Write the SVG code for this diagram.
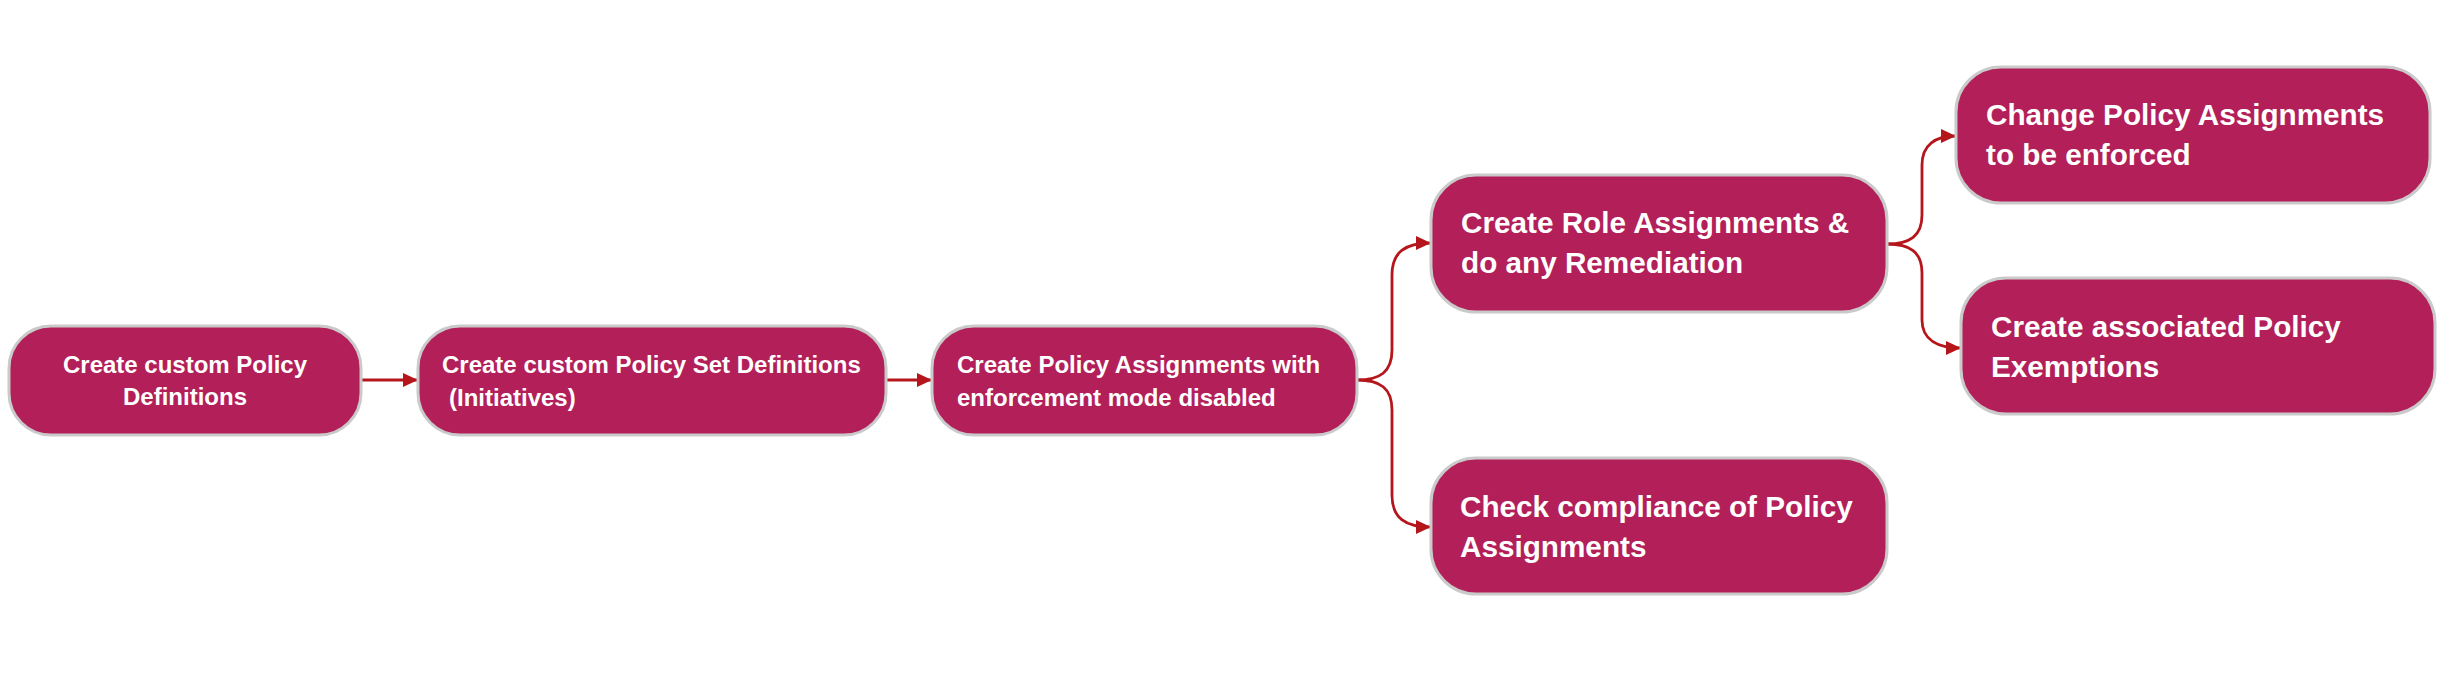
<svg xmlns="http://www.w3.org/2000/svg" width="2455" height="674" viewBox="0 0 2455 674">
  <defs>
    <style>
      .box { fill: #B21F59; stroke: #CACACA; stroke-width: 3; }
      .t { font-family: "Liberation Sans", Arial, sans-serif; font-weight: 700; fill: #FFFFFF; }
      .s { font-size: 24px; }
      .l { font-size: 29.7px; }
      .edge { fill: none; stroke: #B5161B; stroke-width: 2.8; marker-end: url(#arrow); }
    </style>
    <marker id="arrow" markerUnits="userSpaceOnUse" markerWidth="16" markerHeight="14" refX="15" refY="7" orient="auto">
      <path d="M0,0 L15,7 L0,14 Z" fill="#B5161B"/>
    </marker>
  </defs>
  <rect width="2455" height="674" fill="#FFFFFF"/>

  <g id="connectors">
    <path class="edge" d="M361,380 L418,380"/>
    <path class="edge" d="M886,380 L932,380"/>
    <path class="edge" d="M1357,380 C1380,380 1392,372 1392,350 L1392,275 C1392,252 1405,243 1431,243"/>
    <path class="edge" d="M1357,380 C1380,380 1392,388 1392,410 L1392,495 C1392,518 1405,527 1431,527"/>
    <path class="edge" d="M1887,244 C1910,244 1922,236 1922,215 L1922,165 C1922,145 1935,136 1956,136"/>
    <path class="edge" d="M1887,244 C1910,244 1922,252 1922,273 L1922,320 C1922,340 1938,348 1961,348"/>
  </g>

  <g id="node1">
    <rect class="box" x="9" y="326" width="352" height="109" rx="42" ry="42"/>
    <text class="t s" x="185" y="373" text-anchor="middle">Create custom Policy</text>
    <text class="t s" x="185" y="405" text-anchor="middle">Definitions</text>
  </g>
  <g id="node2">
    <rect class="box" x="418" y="326" width="468" height="109" rx="42" ry="42"/>
    <text class="t s" x="442" y="373">Create custom Policy Set Definitions</text>
    <text class="t s" x="449" y="406">(Initiatives)</text>
  </g>
  <g id="node3">
    <rect class="box" x="932" y="326" width="425" height="109" rx="42" ry="42"/>
    <text class="t s" x="957" y="373">Create Policy Assignments with</text>
    <text class="t s" x="957" y="406">enforcement mode disabled</text>
  </g>
  <g id="node4">
    <rect class="box" x="1431" y="175" width="456" height="137" rx="45" ry="45"/>
    <text class="t l" x="1461" y="233">Create Role Assignments &amp;</text>
    <text class="t l" x="1461" y="273">do any Remediation</text>
  </g>
  <g id="node5">
    <rect class="box" x="1431" y="458" width="456" height="136" rx="45" ry="45"/>
    <text class="t l" x="1460" y="517">Check compliance of Policy</text>
    <text class="t l" x="1460" y="557">Assignments</text>
  </g>
  <g id="node6">
    <rect class="box" x="1956" y="67" width="474" height="136" rx="45" ry="45"/>
    <text class="t l" x="1986" y="125">Change Policy Assignments</text>
    <text class="t l" x="1986" y="165">to be enforced</text>
  </g>
  <g id="node7">
    <rect class="box" x="1961" y="278" width="474" height="136" rx="45" ry="45"/>
    <text class="t l" x="1991" y="337">Create associated Policy</text>
    <text class="t l" x="1991" y="377">Exemptions</text>
  </g>
</svg>
